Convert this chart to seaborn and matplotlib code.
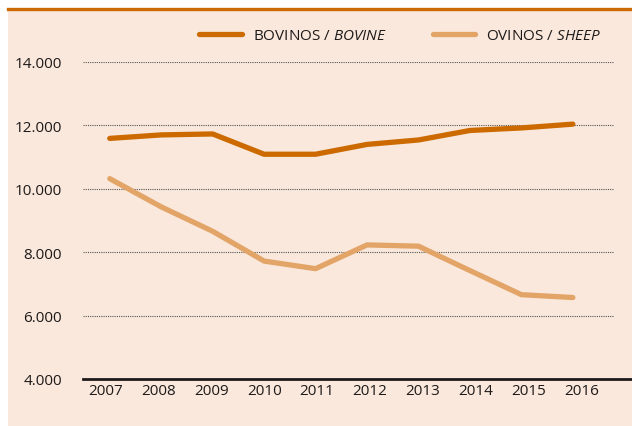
import matplotlib
matplotlib.use("Agg")
import matplotlib.pyplot as plt
from matplotlib.patches import Rectangle
from matplotlib.lines import Line2D
import pandas as pd
import seaborn as sns

# values
years = [2007, 2008, 2009, 2010, 2011, 2012, 2013, 2014, 2015, 2016]
bovine = [11590, 11700, 11730, 11090, 11090, 11400, 11540, 11840, 11920, 12040]
sheep = [10320, 9430, 8660, 7720, 7480, 8230, 8190, 7420, 6660, 6570]
labels = ["BOVINOS / $\\it{BOVINE}$", "OVINOS / $\\it{SHEEP}$"]
y_ticks = [4000, 6000, 8000, 10000, 12000, 14000]

bg = "#F9E8DB"
c_bov = "#CC6A00"
c_ovi = "#E3A468"
txt = "#1E1A1A"

plt.rcParams["font.family"] = ["Open Sans", "DejaVu Sans"]
plt.rcParams["mathtext.fontset"] = "custom"
plt.rcParams["mathtext.it"] = "Open Sans:italic"
plt.rcParams["mathtext.rm"] = "Open Sans"

df = pd.DataFrame({
    "idx": list(range(len(years))) * 2,
    "value": bovine + sheep,
    "series": [labels[0]] * len(years) + [labels[1]] * len(years),
})

fig = plt.figure(figsize=(6.32, 4.27), dpi=100)
fig.patch.set_facecolor("white")
# beige panel and orange top rule
panel = Rectangle((8 / 632, 0), 1, 1 - 9 / 427, transform=fig.transFigure,
                  facecolor=bg, edgecolor="none", zorder=-10)
fig.add_artist(panel)
rule = Line2D([8 / 632, 1], [1 - 9.5 / 427] * 2, transform=fig.transFigure,
              color=c_bov, lw=2.4, zorder=-5)
fig.add_artist(rule)

ax = fig.add_axes([83 / 632, 47 / 427, 549 / 632, 317 / 427])
ax.set_zorder(2)
ax.set_facecolor("none")

sns.lineplot(data=df, x="idx", y="value", hue="series",
             palette=[c_bov, c_ovi], lw=3.8, ax=ax, legend=False,
             solid_capstyle="round", clip_on=False, zorder=3)

ax.set_ylim(4000, 14000)
ax.set_xlim(-0.52, 10.15)

for v in y_ticks[1:]:
    ax.axhline(v, xmin=0, xmax=0.967, color="#555555", lw=0.8, ls=(0, (1, 1)), zorder=1)

ax.set_yticks(y_ticks)
ax.set_yticklabels([f"{v:,}".replace(",", ".") for v in y_ticks], fontsize=11, color=txt)
ax.set_xticks([i * 1.027 - 0.08 for i in range(len(years))])
ax.set_xticklabels([str(y) for y in years], fontsize=11, color=txt)
ax.tick_params(axis="both", length=0)
ax.tick_params(axis="y", pad=15)
ax.tick_params(axis="x", pad=3)
ax.set_xlabel("")
ax.set_ylabel("")

for s in ["top", "right", "left"]:
    ax.spines[s].set_visible(False)
ax.spines["bottom"].set_color(txt)
ax.spines["bottom"].set_linewidth(2)

handles = [Line2D([], [], color=c_bov, lw=3.8, solid_capstyle="round"),
           Line2D([], [], color=c_ovi, lw=3.8, solid_capstyle="round")]
fig.legend(handles, labels, ncol=2, frameon=False, loc="center",
           bbox_to_anchor=(400 / 632, 1 - 37 / 427), fontsize=11,
           handlelength=2.8, handletextpad=0.7, columnspacing=3.0,
           labelcolor=txt)

fig.savefig("out.png", dpi=100, facecolor="white")
